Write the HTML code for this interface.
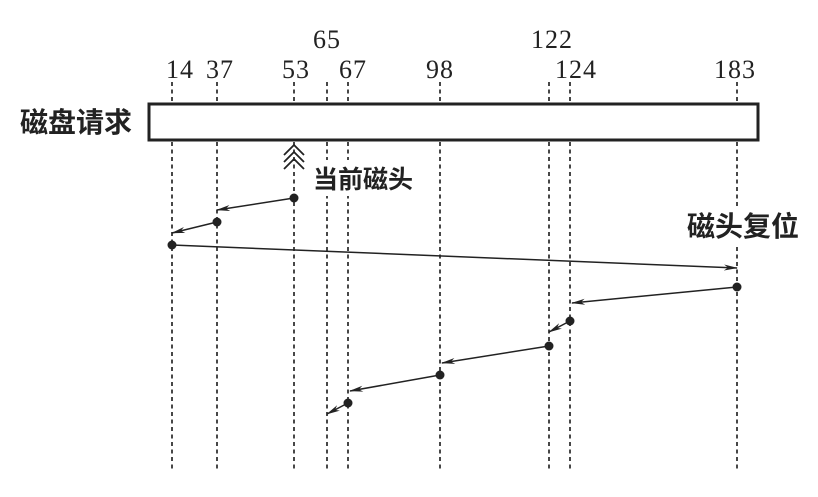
<!DOCTYPE html>
<html><head><meta charset="utf-8"><style>
html,body{margin:0;padding:0;background:#fff;}
</style></head><body>
<svg width="818" height="492" xmlns="http://www.w3.org/2000/svg">
<defs>
<marker id="a" markerWidth="14" markerHeight="8" refX="13" refY="4" orient="auto" markerUnits="userSpaceOnUse">
<path d="M0,1 L14,4 L0,7 L4,4 Z" fill="#222"/>
</marker>
</defs>
<g stroke="#333" stroke-width="1.8" stroke-dasharray="4,3.5">
<line x1="172" y1="82" x2="172" y2="472"/>
<line x1="217" y1="82" x2="217" y2="472"/>
<line x1="294" y1="82" x2="294" y2="472"/>
<line x1="327" y1="82" x2="327" y2="472"/>
<line x1="348" y1="82" x2="348" y2="472"/>
<line x1="440" y1="82" x2="440" y2="472"/>
<line x1="549" y1="82" x2="549" y2="472"/>
<line x1="570" y1="82" x2="570" y2="472"/>
<line x1="737" y1="82" x2="737" y2="472"/>
</g>
<rect x="149" y="104" width="609" height="36" fill="#fff" stroke="#222" stroke-width="3"/>
<rect x="310" y="160" width="108" height="36" fill="#fff"/>
<rect x="684" y="206" width="124" height="40" fill="#fff"/>
<g font-family="Liberation Serif, serif" font-size="26" fill="#222" text-anchor="middle" letter-spacing="1">
<text x="327" y="48">65</text><text x="552" y="48">122</text>
<text x="180" y="78">14</text><text x="220" y="78">37</text><text x="296" y="78">53</text>
<text x="353" y="78">67</text><text x="440" y="78">98</text><text x="576" y="78">124</text><text x="735" y="78">183</text>
</g>
<g font-family="Liberation Sans, 'Noto Sans CJK SC', sans-serif" font-weight="bold" fill="#222">
<text x="20" y="132" font-size="28">磁盘请求</text>
<text x="313" y="188" font-size="25">当前磁头</text>
<text x="687" y="236" font-size="28">磁头复位</text>
</g>
<g stroke="#222" stroke-width="1.8" fill="none">
<path d="M284,155 L294,145 L304,155 M284,162 L294,152 L304,162 M284,169 L294,159 L304,169"/>
</g>
<g stroke="#222" stroke-width="1.5" marker-end="url(#a)">
<line x1="294" y1="198" x2="217" y2="210"/>
<line x1="217" y1="222" x2="172" y2="233"/>
<line x1="172" y1="245" x2="737" y2="268"/>
<line x1="737" y1="287" x2="572" y2="303"/>
<line x1="570" y1="321" x2="549" y2="332"/>
<line x1="549" y1="346" x2="442" y2="363"/>
<line x1="440" y1="375" x2="350" y2="391"/>
<line x1="348" y1="403" x2="327" y2="414"/>
</g>
<g fill="#222">
<circle cx="294" cy="198" r="4.5"/><circle cx="217" cy="222" r="4.5"/><circle cx="172" cy="245" r="4.5"/>
<circle cx="737" cy="287" r="4.5"/><circle cx="570" cy="321" r="4.5"/><circle cx="549" cy="346" r="4.5"/>
<circle cx="440" cy="375" r="4.5"/><circle cx="348" cy="403" r="4.5"/>
</g>
</svg>
</body></html>
